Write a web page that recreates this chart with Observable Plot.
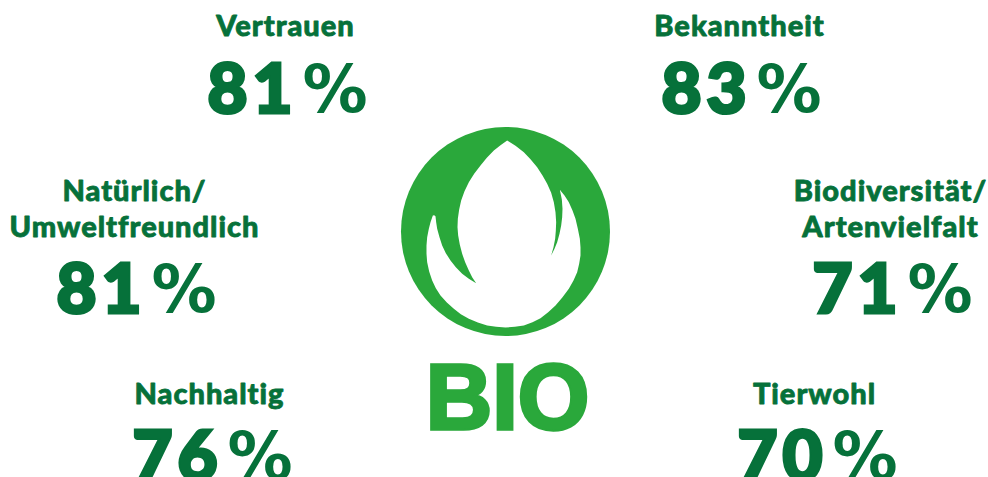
<!DOCTYPE html>
<html><head><meta charset="utf-8">
<script src="https://cdn.jsdelivr.net/npm/d3@7"></script>
<script src="https://cdn.jsdelivr.net/npm/@observablehq/plot@0.6"></script>
<style>html,body{margin:0;padding:0;background:#fff;overflow:hidden}svg{display:block}</style>
</head><body><div id="chart"></div>
<script>
const labels = ["Vertrauen","Bekanntheit","Natürlich/\nUmweltfreundlich","Biodiversität/\nArtenvielfalt","Nachhaltig","Tierwohl"];
const values = [81,83,81,71,76,70];
const labelX = [285,739,134,890,209,814];
const labelY = [35,35,236,236,403,403];
const numberX = [297,751,146,902,222,827];
const numberY = [112,112,312,312,479,479];
const logoTitle = "BIO";
const circleCentre = [{x:505,y:231}];
const flameZoomX = [350,375,400,420,440,456,470,482,490,495,497,496,494,489,482,492,500,507,512,515,516,514,508,522,535,546,555,562,568,570,570,566,560,549,535,516,495,473,450,426,400,373,345,317,290,262,235,211,190,169,150,136,125,116,110,108,108,110,115,120,127,131,135,137,140,147,155,166,180,196,215,235,257,245,235,224,215,208,203,201,202,206,212,222,235,251,270,289,310,330,350];
const flameZoomY = [45,61,80,101,125,150,175,202,230,260,290,315,340,365,390,370,350,325,300,275,250,222,193,210,230,255,280,310,340,365,390,415,440,465,490,515,540,560,578,590,600,604,606,604,600,591,580,566,550,531,510,488,465,438,410,385,360,335,310,290,270,269,272,290,310,335,360,383,405,425,445,460,473,455,435,410,385,358,330,305,280,252,225,197,170,145,120,97,75,59,45];
const flame = flameZoomX.map((z,i)=>({x:390+z/3,y:125+flameZoomY[i]/3}));
const rows = values.map((v,i)=>({label:labels[i],value:v,lx:labelX[i],ly:labelY[i],nx:numberX[i],ny:numberY[i]}));
const dark = "#06713a", light = "#2aa83b";
const head = {fontFamily:"Lato",fontWeight:900,fill:dark,stroke:dark};
// Plot has no letter-spacing option, so it is set on the mark's group as it renders
const spaced = px => (index, scales, values, dimensions, context, next) => {
  const g = next(index, scales, values, dimensions, context);
  g.setAttribute("letter-spacing", px);
  return g;
};
const plot = Plot.plot({
  width:988,height:477,margin:0,
  x:{domain:[0,988],range:[0,988],axis:null},
  y:{domain:[0,477],range:[0,477],axis:null},
  marks:[
    Plot.dot(circleCentre,{x:"x",y:"y",r:104.5,fill:light}),
    Plot.line(flame,{x:"x",y:"y",fill:"#fff",stroke:"none"}),
    Plot.text([logoTitle],{x:[507],y:[428],text:d=>d,fontFamily:"Liberation Sans",fontWeight:700,fontSize:92,fill:light,stroke:light,strokeWidth:3.5,strokeLinejoin:"miter",lineAnchor:"bottom",textAnchor:"middle"}),
    Plot.text(rows,{x:"lx",y:"ly",text:"label",fontSize:29,lineHeight:1.21,lineAnchor:"bottom",textAnchor:"middle",...head,strokeWidth:0.8,render:spaced("1px")}),
    Plot.text(rows,{x:"nx",y:"ny",text:d=>String(d.value),fontSize:69,lineAnchor:"bottom",textAnchor:"end",...head,strokeWidth:3.2,strokeLinejoin:"miter",render:spaced("5px")}),
    Plot.text(rows,{x:d=>d.nx+5,y:d=>d.ny-1,text:()=>"%",fontSize:65,lineAnchor:"bottom",textAnchor:"start",fontFamily:"DejaVu Sans",fontWeight:700,fill:dark})
  ]
});
document.getElementById("chart").append(plot);
</script></body></html>
